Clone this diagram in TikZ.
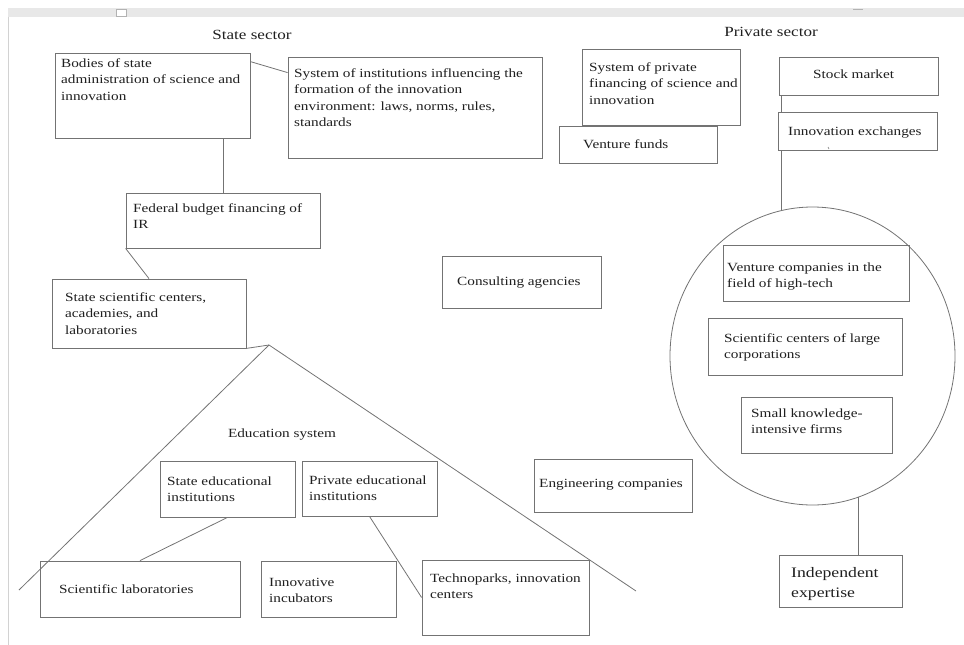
\documentclass[tikz,border=0pt]{standalone}
\usepackage{fontspec}
\setmainfont{Liberation Serif}[FakeStretch=1.22]
\usetikzlibrary{fit,calc,shapes.geometric}
\begin{document}
\begin{tikzpicture}[x=1pt,y=-1pt,
  box/.style={draw=black!55, line width=0.8pt, inner sep=0pt},
  txt/.style={inner sep=0pt, align=left, text=black!88, font=\fontsize{12.5}{16.5}\selectfont},
  bigtxt/.style={inner sep=0pt, align=left, text=black!88, font=\fontsize{14.5}{20}\selectfont},
  title/.style={inner sep=0pt, text=black!88, font=\fontsize{14}{17}\selectfont},
  conn/.style={draw=black!55, line width=0.8pt}]
\useasboundingbox (0,0) rectangle (964,645);
% page frame
\fill[gray!18] (8,8) rectangle (964,16.5);
\draw[gray!60, fill=white, line width=0.8pt] (116,9.5) rectangle (126,16);
\draw[gray!60, line width=1.2pt] (853,9.5) -- (863,9.5);
\draw[gray!35, line width=1pt] (8.5,16.5) -- (8.5,645);
% titles
\node[title] (tstate) at (252,35) {State sector};
\node[title] (tpriv) at (771,32) {Private sector};
% circle
\node[draw=black!55, line width=0.8pt, ellipse, minimum width=285pt, minimum height=298pt, inner sep=0pt] (circ) at (812.5,356) {};
% state sector boxes
\node[box, fit={(55,53) (250,138)}] (bodies) {};
\node[txt, anchor=base west] (bodiesT) at (61,100) {Bodies of state\\administration of science and\\innovation};
\node[box, fit={(288,57) (542,158)}] (sys) {};
\node[txt, anchor=base west] (sysT) at (294,126.5) {System of institutions influencing the\\formation of the innovation\\environment: laws, norms, rules,\\standards};
\node[box, fit={(126,193) (320,248)}] (fed) {};
\node[txt, anchor=base west] (fedT) at (133,228.5) {Federal budget financing of\\IR};
\node[box, fit={(52,279) (246,348)}] (ssc) {};
\node[txt, anchor=base west] (sscT) at (65,334) {State scientific centers,\\academies, and\\laboratories};
% education triangle
\coordinate (apex) at (269,345);
\coordinate (triL) at (19,590);
\coordinate (triR) at (636,591);
\draw[conn] (ssc.south east) -- (apex);
\draw[conn] (triL) -- (apex) -- (triR);
\node[txt] (edu) at (282,435) {Education system};
\node[box, fit={(160,461) (295,517)}] (sedu) {};
\node[txt, anchor=base west] (seduT) at (167,501.5) {State educational\\institutions};
\node[box, fit={(302,461) (437,516)}] (pedu) {};
\node[txt, anchor=base west] (peduT) at (309,500.5) {Private educational\\institutions};
\node[box, fit={(40,561) (240,617)}] (slab) {};
\node[txt, anchor=base west] (slabT) at (59,593) {Scientific laboratories};
\node[box, fit={(261,561) (396,617)}] (inc) {};
\node[txt, anchor=base west] (incT) at (269,602.5) {Innovative\\incubators};
\node[box, fit={(422,560) (589,635)}] (tech) {};
\node[txt, anchor=base west] (techT) at (430,598.5) {Technoparks, innovation\\centers};
% middle
\node[box, fit={(442,256) (601,308)}] (cons) {};
\node[txt, anchor=base west] (consT) at (457,285) {Consulting agencies};
\node[box, fit={(534,459) (692,512)}] (eng) {};
\node[txt, anchor=base west] (engT) at (539,487) {Engineering companies};
% private sector
\node[box, fit={(582,49) (740,125)}] (pfin) {};
\node[txt, anchor=base west] (pfinT) at (589,104) {System of private\\financing of science and\\innovation};
\node[box, fit={(559,126) (717,163)}] (vf) {};
\node[txt, anchor=base west] (vfT) at (583,148) {Venture funds};
\node[box, fit={(779,57) (938,95)}] (stock) {};
\node[txt, anchor=base west] (stockT) at (813,78) {Stock market};
\node[box, fit={(778,112) (937,150)}] (ie) {};
\node[txt, anchor=base west] (ieT) at (788,135) {Innovation exchanges};
\node[box, fit={(723,245) (909,301)}] (vc) {};
\node[txt, anchor=base west] (vcT) at (727,287.5) {Venture companies in the\\field of high-tech};
\node[box, fit={(708,318) (902,375)}] (scc) {};
\node[txt, anchor=base west] (sccT) at (724,358.5) {Scientific centers of large\\corporations};
\node[box, fit={(741,397) (892,453)}] (skf) {};
\node[txt, anchor=base west] (skfT) at (751,433.5) {Small knowledge-\\intensive firms};
\node[box, fit={(779,555) (902,607)}] (indep) {};
\node[bigtxt, anchor=base west] (indepT) at (791,597) {Independent\\expertise};
% connectors
\draw[conn] ($(bodies.north east)+(0,9)$) -- ($(sys.north west)+(0,16)$);
\draw[conn] (bodies.south -| fed.north) -- (fed.north);
\draw[conn] (fed.south west) -- (ssc.north);
\draw[conn] (sedu.south) -- (slab.north);
\draw[conn] (pedu.south) -- (tech.west);
\draw[conn] ($(stock.south west)+(3,0)$) -- ($(ie.north west)+(4,0)$);
\draw[conn] (ie.south -| circ.102) -- (circ.102);
\draw[conn] (circ.-72) -- (circ.-72 |- indep.north);
\draw[black!55, line width=0.6pt] (828,147) -- (829,149);
\end{tikzpicture}
\end{document}
